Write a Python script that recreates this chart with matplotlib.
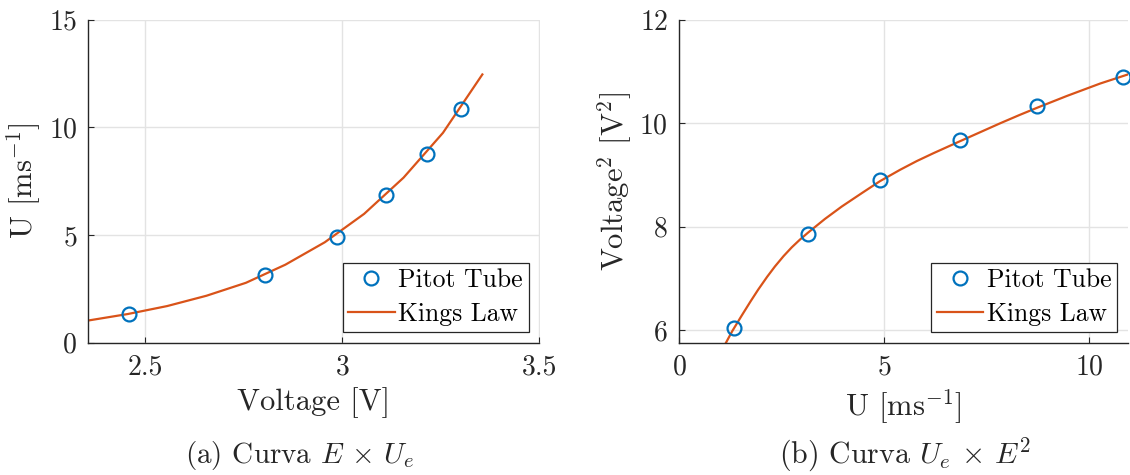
import numpy as np
import matplotlib.pyplot as plt

plt.rcParams['font.family'] = 'serif'
plt.rcParams['font.serif'] = ['cmr10', 'DejaVu Serif']
plt.rcParams['mathtext.fontset'] = 'cm'
plt.rcParams['axes.formatter.use_mathtext'] = True
plt.rcParams['axes.unicode_minus'] = False

# measured points (Pitot tube)
E_meas = [2.458, 2.804, 2.985, 3.111, 3.215, 3.300]
U_meas = [1.33, 3.14, 4.90, 6.86, 8.74, 10.83]
E2_meas = [6.04, 7.86, 8.91, 9.68, 10.34, 10.90]

# Kings law curve, panel (a)
E_fit = [2.355, 2.455, 2.555, 2.655, 2.755, 2.855, 2.955, 3.055, 3.155, 3.255, 3.355]
U_fit = [1.03, 1.33, 1.70, 2.18, 2.78, 3.62, 4.66, 5.98, 7.66, 9.74, 12.45]

# Kings law curve, panel (b)
U_fit_b = [1.0, 1.146, 1.3, 1.53, 1.75, 1.93, 2.15, 2.34, 2.55, 2.75, 2.95, 3.14,
           3.56, 3.97, 4.46, 4.90, 5.39, 5.8, 6.2, 6.87, 7.35, 7.83, 8.3, 8.76,
           9.46, 10.27, 11.0]
E2_fit_b = [5.54, 5.754, 5.98, 6.28, 6.56, 6.78, 7.03, 7.23, 7.43, 7.60, 7.75, 7.88,
            8.15, 8.39, 8.65, 8.88, 9.10, 9.27, 9.42, 9.66, 9.83, 10.00, 10.16, 10.31,
            10.53, 10.77, 10.96]

blue = '#0072BD'
orange = '#D95319'
dark = '#262626'

fig = plt.figure(figsize=(11.3, 4.75), dpi=100)
W, H = 1130, 475
ax1 = fig.add_axes([88.3 / W, 1 - 342.7 / H, (539.5 - 88.3) / W, (342.7 - 19.5) / H])
ax2 = fig.add_axes([679 / W, 1 - 342.7 / H, (1128 - 679) / W, (342.7 - 20) / H])

for ax in (ax1, ax2):
    ax.grid(True, color='#e3e3e3', linewidth=1)
    ax.set_axisbelow(True)
    for s in ('top', 'right'):
        ax.spines[s].set_visible(False)
    for s in ('bottom', 'left'):
        ax.spines[s].set_color(dark)
        ax.spines[s].set_linewidth(1.0)
    ax.tick_params(direction='in', length=4, width=0.8, color=dark,
                   labelsize=20, labelcolor=dark, pad=8)

ax1.plot(E_meas, U_meas, 'o', mfc='none', mec=blue, ms=10, mew=1.6, label='Pitot Tube', zorder=3)
ax1.plot(E_fit, U_fit, '-', color=orange, lw=1.6, label='Kings Law')
ax1.set_xlim(2.355, 3.5)
ax1.set_ylim(0, 15)
ax1.set_xticks([2.5, 3, 3.5])
ax1.set_xticklabels(['2.5', '3', '3.5'])
ax1.set_yticks([0, 5, 10, 15])
ax1.set_xlabel('Voltage [V]', fontsize=22, color=dark, labelpad=5)
ax1.set_ylabel('U [ms$^{-1}$]', fontsize=22, color=dark, labelpad=4)

ax2.plot(U_meas, E2_meas, 'o', mfc='none', mec=blue, ms=10, mew=1.6, label='Pitot Tube', zorder=3, clip_on=False)
ax2.plot(U_fit_b, E2_fit_b, '-', color=orange, lw=1.6, label='Kings Law')
ax2.set_xlim(0, 10.95)
ax2.set_ylim(5.754, 12)
ax2.set_xticks([0, 5, 10])
ax2.set_yticks([6, 8, 10, 12])
ax2.set_xlabel('U [ms$^{-1}$]', fontsize=22, color=dark, labelpad=5)
ax2.set_ylabel('Voltage$^2$ [V$^2$]', fontsize=22, color=dark, labelpad=4)

for ax in (ax1, ax2):
    leg = ax.legend(loc='lower right', fontsize=18.5, fancybox=False, framealpha=1,
                    edgecolor=dark, borderaxespad=0.42, handlelength=1.8,
                    handletextpad=0.15, borderpad=0.22, labelspacing=0.4)
    leg.get_frame().set_linewidth(0.9)

fig.text(300 / W, 1 - 455 / H, r'(a) Curva $E$ $\times$ $U_e$',
         ha='center', va='center', fontsize=21, color=dark)
fig.text(905 / W, 1 - 455 / H, r'(b) Curva $U_e$ $\times$ $E^2$',
         ha='center', va='center', fontsize=21.5, color=dark)

fig.savefig('out.png', dpi=100)
